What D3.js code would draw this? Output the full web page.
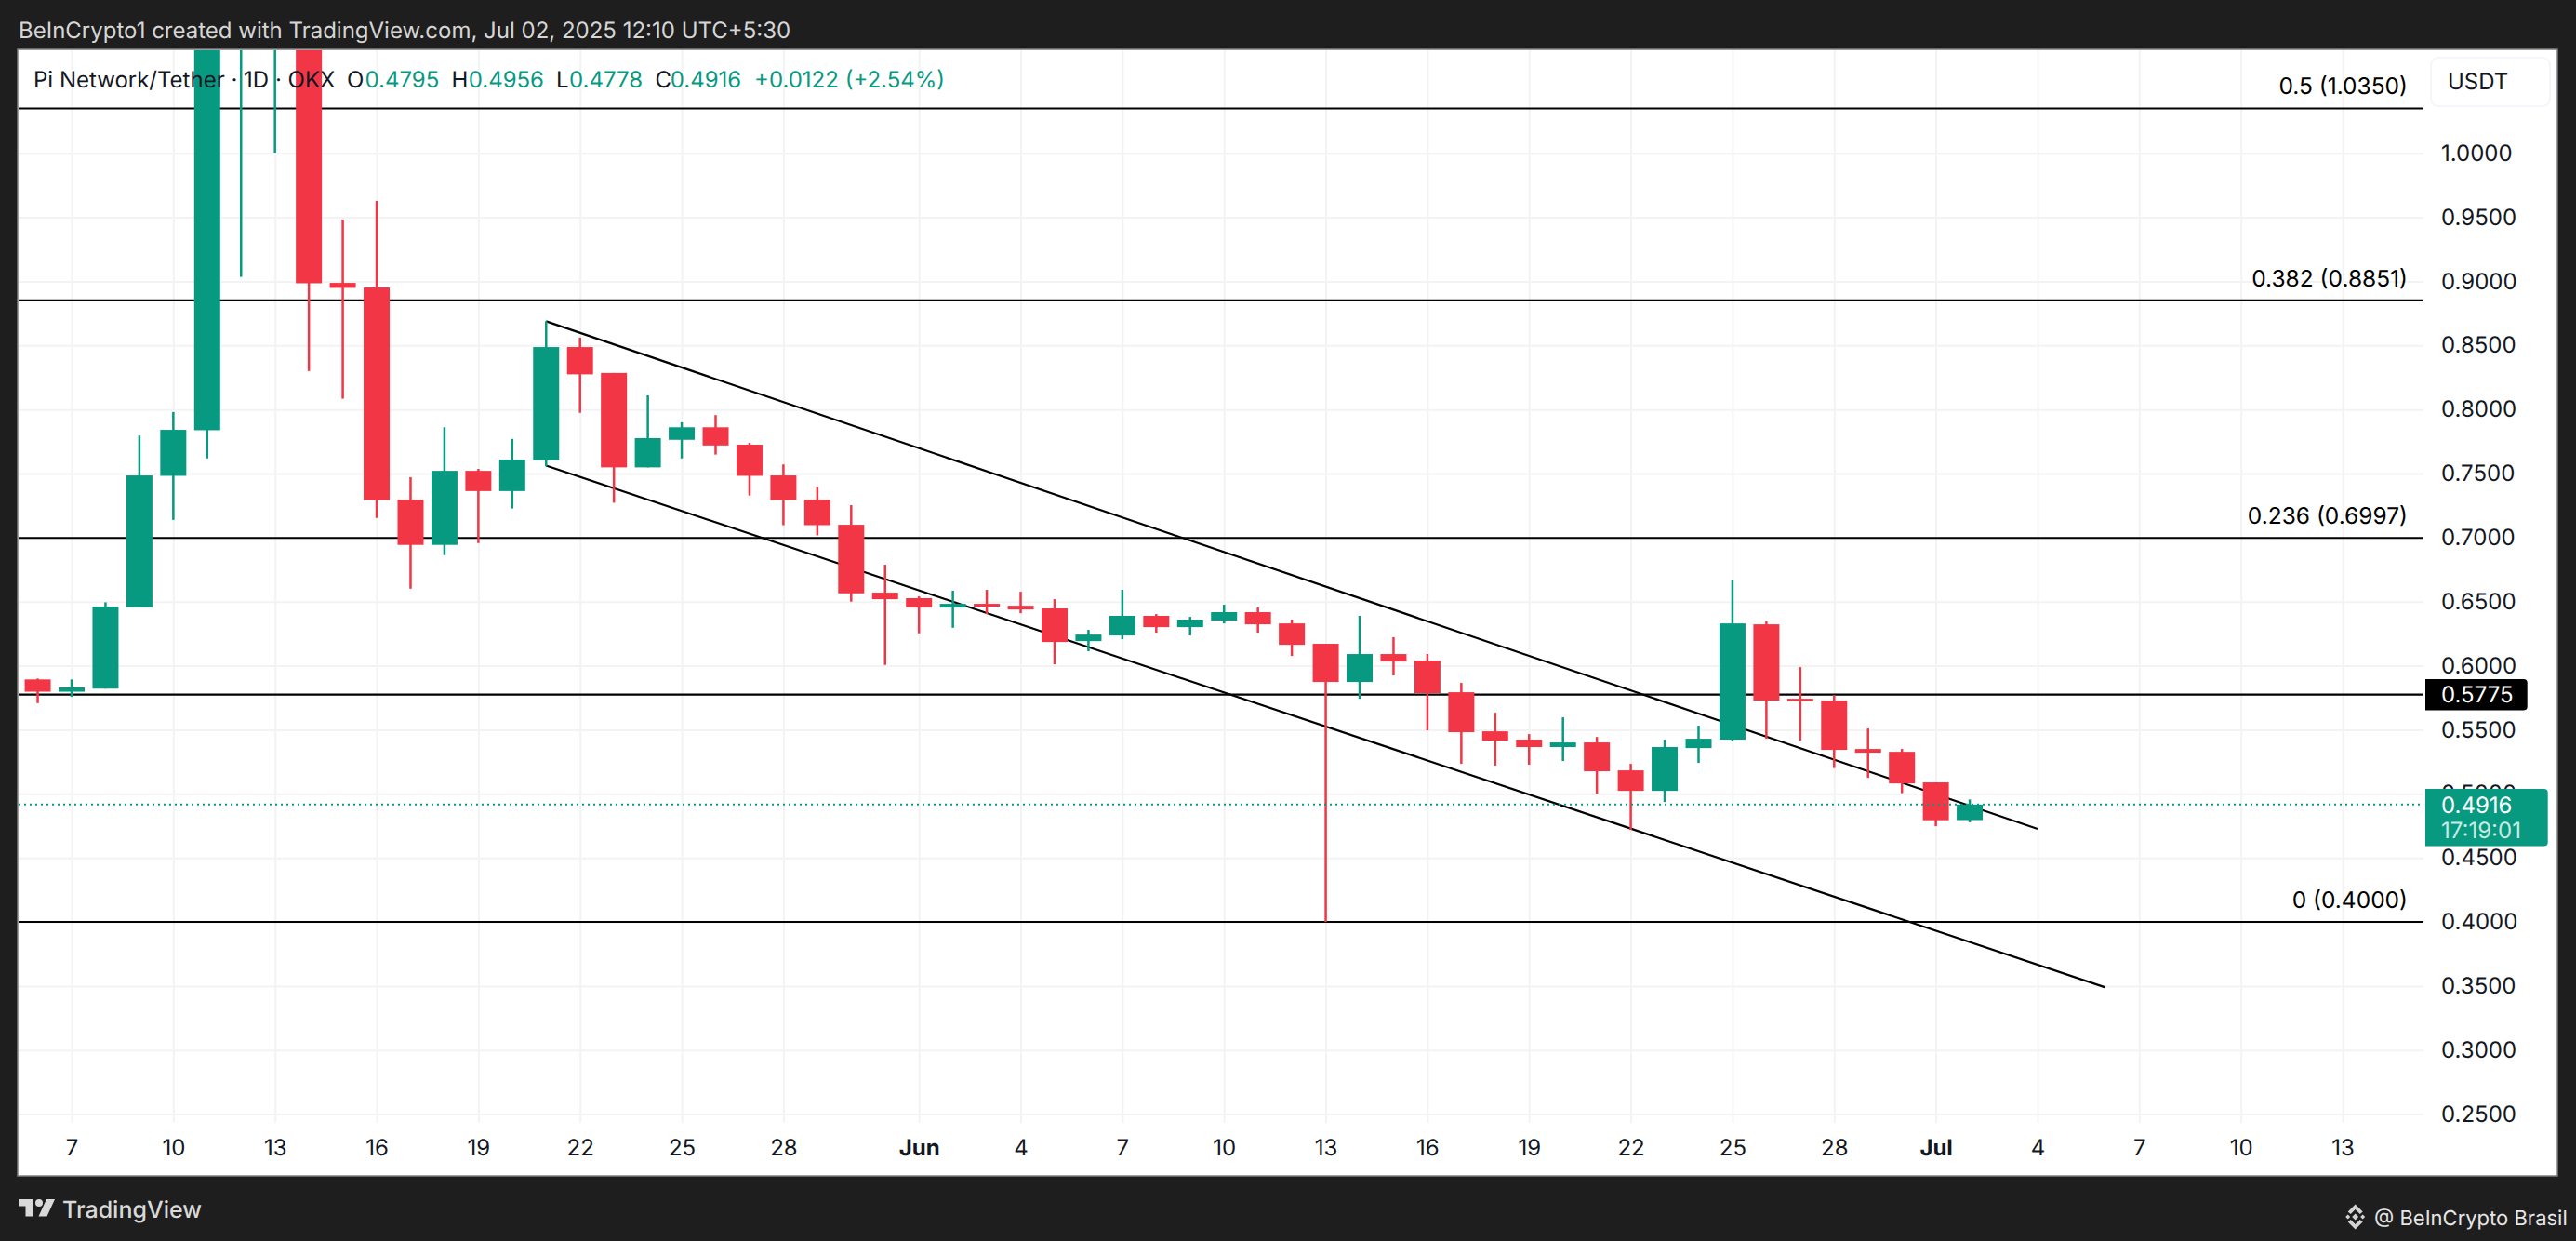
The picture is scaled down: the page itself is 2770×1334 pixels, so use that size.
<!DOCTYPE html>
<html>
<head>
<meta charset="utf-8">
<title>Pi Network/Tether</title>
<script src="https://cdn.jsdelivr.net/npm/d3@7"></script>
<style>
	html, body { margin: 0; padding: 0; background: #1e1e1e; }
	svg { display: block; }
	text { font-family: Inter, "Noto Sans", sans-serif; text-rendering: geometricPrecision; }
</style>
</head>
<body>
<div id="chart"></div>
<script>
// one candle per day, 6 May to 2 Jul 2025
var dates = [
	'2025-05-06', '2025-05-07', '2025-05-08', '2025-05-09', '2025-05-10', '2025-05-11', '2025-05-12', '2025-05-13',
	'2025-05-14', '2025-05-15', '2025-05-16', '2025-05-17', '2025-05-18', '2025-05-19', '2025-05-20', '2025-05-21',
	'2025-05-22', '2025-05-23', '2025-05-24', '2025-05-25', '2025-05-26', '2025-05-27', '2025-05-28', '2025-05-29',
	'2025-05-30', '2025-05-31', '2025-06-01', '2025-06-02', '2025-06-03', '2025-06-04', '2025-06-05', '2025-06-06',
	'2025-06-07', '2025-06-08', '2025-06-09', '2025-06-10', '2025-06-11', '2025-06-12', '2025-06-13', '2025-06-14',
	'2025-06-15', '2025-06-16', '2025-06-17', '2025-06-18', '2025-06-19', '2025-06-20', '2025-06-21', '2025-06-22',
	'2025-06-23', '2025-06-24', '2025-06-25', '2025-06-26', '2025-06-27', '2025-06-28', '2025-06-29', '2025-06-30',
	'2025-07-01', '2025-07-02'
];
// 11-14 May run off the top of the pane, those opens/closes/highs are guesses
var opens = [
	0.5893, 0.5797, 0.5821, 0.6455, 0.7482, 0.7838, 1.2000, 1.3500,
	1.4500, 0.8988, 0.8952, 0.7296, 0.6943, 0.7521, 0.7363, 0.7603,
	0.8487, 0.8285, 0.7548, 0.7763, 0.7861, 0.7725, 0.7485, 0.7296,
	0.7100, 0.6570, 0.6527, 0.6454, 0.6483, 0.6468, 0.6447, 0.6192,
	0.6236, 0.6389, 0.6301, 0.6353, 0.6418, 0.6330, 0.6171, 0.5873,
	0.6091, 0.6040, 0.5793, 0.5488, 0.5423, 0.5365, 0.5401, 0.5183,
	0.5023, 0.5357, 0.5423, 0.6323, 0.5742, 0.5728, 0.5350, 0.5328,
	0.5089, 0.4795
];
var highs = [
	0.5900, 0.5893, 0.6495, 0.7796, 0.7980, 1.3000, 1.6600, 1.5000,
	1.4600, 0.9483, 0.9628, 0.7471, 0.7861, 0.7536, 0.7770, 0.8688,
	0.8561, 0.8285, 0.8110, 0.7900, 0.7956, 0.7740, 0.7571, 0.7399,
	0.7253, 0.6788, 0.6541, 0.6585, 0.6592, 0.6577, 0.6519, 0.6280,
	0.6592, 0.6403, 0.6381, 0.6476, 0.6454, 0.6360, 0.6171, 0.6389,
	0.6222, 0.6091, 0.5866, 0.5633, 0.5466, 0.5597, 0.5444, 0.5234,
	0.5423, 0.5532, 0.6665, 0.6345, 0.5989, 0.5771, 0.5510, 0.5350,
	0.5089, 0.4956
];
var lows = [
	0.5708, 0.5757, 0.5821, 0.6455, 0.7138, 0.7618, 0.9035, 1.0001,
	0.8300, 0.8084, 0.7153, 0.6601, 0.6863, 0.6957, 0.7227, 0.7556,
	0.7974, 0.7272, 0.7548, 0.7618, 0.7648, 0.7328, 0.7097, 0.7017,
	0.6500, 0.6006, 0.6253, 0.6296, 0.6403, 0.6410, 0.6011, 0.6113,
	0.6207, 0.6258, 0.6236, 0.6330, 0.6258, 0.6076, 0.4000, 0.5742,
	0.5924, 0.5495, 0.5234, 0.5220, 0.5227, 0.5256, 0.5001, 0.4718,
	0.4936, 0.5241, 0.5409, 0.5430, 0.5415, 0.5201, 0.5125, 0.5005,
	0.4747, 0.4778
];
var closes = [
	0.5797, 0.5830, 0.6462, 0.7485, 0.7841, 1.2000, 1.3500, 1.4500,
	0.8985, 0.8949, 0.7292, 0.6943, 0.7521, 0.7363, 0.7609, 0.8487,
	0.8274, 0.7548, 0.7776, 0.7861, 0.7719, 0.7482, 0.7292, 0.7097,
	0.6565, 0.6519, 0.6454, 0.6483, 0.6461, 0.6439, 0.6185, 0.6243,
	0.6389, 0.6301, 0.6360, 0.6418, 0.6323, 0.6163, 0.5873, 0.6091,
	0.6033, 0.5786, 0.5481, 0.5415, 0.5365, 0.5401, 0.5176, 0.5023,
	0.5365, 0.5430, 0.6330, 0.5728, 0.5728, 0.5343, 0.5321, 0.5081,
	0.4794, 0.4916
];

var priceTicks = [1, 0.95, 0.9, 0.85, 0.8, 0.75, 0.7, 0.65, 0.6, 0.55, 0.5, 0.45, 0.4, 0.35, 0.3, 0.25];
var timeTicks = [
	'2025-05-07', '2025-05-10', '2025-05-13', '2025-05-16', '2025-05-19', '2025-05-22', '2025-05-25', '2025-05-28',
	'2025-06-01', '2025-06-04', '2025-06-07', '2025-06-10', '2025-06-13', '2025-06-16', '2025-06-19', '2025-06-22',
	'2025-06-25', '2025-06-28', '2025-07-01', '2025-07-04', '2025-07-07', '2025-07-10', '2025-07-13'
];
var timeLabels = ['7', '10', '13', '16', '19', '22', '25', '28', 'Jun', '4', '7', '10', '13', '16', '19', '22', '25', '28', 'Jul', '4', '7', '10', '13'];

var fibLevels = [1.035, 0.8851, 0.6997, 0.4];
var fibNames = ['0.5 (1.0350)', '0.382 (0.8851)', '0.236 (0.6997)', '0 (0.4000)'];
var plainLevel = 0.5775;
var lastPrice = 0.4916;

// channel trend lines, two ends each
var channelDates = [['2025-05-21', '2025-07-04'], ['2025-05-21', '2025-07-06']];
var channelPrices = [[0.8688, 0.4726], [0.7562, 0.3489]];

var legendNames = ['O', 'H', 'L', 'C'];
var legendValues = ['0.4795', '0.4956', '0.4778', '0.4916'];

var green = '#089981';
var red = '#f23645';
var ink = '#131722';
var gridColor = '#f3f3f4';

var width = 2770, height = 1334;
var pane = { left: 20, top: 54, right: 2606, bottom: 1207 };
var frame = { right: 2749, bottom: 1263 };

var parseDay = d3.utcParse('%Y-%m-%d');

var x = d3.scaleUtc()
	.domain([parseDay('2025-05-07'), parseDay('2025-07-13')])
	.range([77, 2519]);

var y = d3.scaleLinear()
	.domain([0.25, 1])
	.range([1197.6, 164.7]);

var svg = d3.select('#chart').append('svg')
	.attr('width', width)
	.attr('height', height);

svg.append('rect')
	.attr('x', pane.left - 1).attr('y', pane.top - 1)
	.attr('width', frame.right - pane.left + 2).attr('height', frame.bottom - pane.top + 2)
	.attr('fill', '#ffffff')
	.attr('stroke', '#808080')
	.attr('stroke-width', 1.5);

svg.append('defs').append('clipPath').attr('id', 'pane')
	.append('rect')
	.attr('x', pane.left).attr('y', pane.top)
	.attr('width', pane.right - pane.left).attr('height', pane.bottom - pane.top);

// grid, drawn with the axes so tick size spans the pane
var timeDates = timeTicks.map(parseDay);

var xGrid = svg.append('g')
	.attr('transform', 'translate(0,' + pane.bottom + ')')
	.call(d3.axisBottom(x).tickValues(timeDates).tickSize(-(pane.bottom - pane.top)).tickFormat(''));
xGrid.select('.domain').remove();
xGrid.selectAll('line').attr('stroke', gridColor).attr('stroke-width', 2);

var yGrid = svg.append('g')
	.attr('transform', 'translate(' + pane.right + ',0)')
	.call(d3.axisLeft(y).tickValues(priceTicks).tickSize(pane.right - pane.left).tickFormat(''));
yGrid.select('.domain').remove();
yGrid.selectAll('line').attr('stroke', gridColor).attr('stroke-width', 2);

var plot = svg.append('g').attr('clip-path', 'url(#pane)');

// horizontal levels
plot.selectAll('.level')
	.data(fibLevels.concat([plainLevel]))
	.enter().append('line')
	.attr('class', 'level')
	.attr('x1', pane.left).attr('x2', pane.right)
	.attr('y1', function (d) { return y(d); })
	.attr('y2', function (d) { return y(d); })
	.attr('stroke', '#000000')
	.attr('stroke-width', 2.2);

// falling channel
var channelLine = d3.line()
	.x(function (d) { return x(parseDay(d[0])); })
	.y(function (d) { return y(d[1]); });

channelDates.forEach(function (ends, i) {
	plot.append('path')
		.attr('d', channelLine(d3.zip(ends, channelPrices[i])))
		.attr('fill', 'none')
		.attr('stroke', '#000000')
		.attr('stroke-width', 2.2);
});

// candles
var candleWidth = 28;
var candles = plot.selectAll('.candle')
	.data(dates)
	.enter().append('g')
	.attr('class', 'candle')
	.attr('fill', function (d, i) { return closes[i] >= opens[i] ? green : red; });

candles.append('rect')
	.attr('x', function (d) { return x(parseDay(d)) - 1.25; })
	.attr('width', 2.5)
	.attr('y', function (d, i) { return y(highs[i]); })
	.attr('height', function (d, i) { return y(lows[i]) - y(highs[i]); });

candles.append('rect')
	.attr('x', function (d) { return x(parseDay(d)) - candleWidth / 2; })
	.attr('width', candleWidth)
	.attr('y', function (d, i) { return y(Math.max(opens[i], closes[i])); })
	.attr('height', function (d, i) { return Math.max(Math.abs(y(opens[i]) - y(closes[i])), 2.5); });

// dotted last price line
svg.append('line')
	.attr('x1', pane.left).attr('x2', pane.right - 2)
	.attr('y1', y(lastPrice)).attr('y2', y(lastPrice))
	.attr('stroke', green)
	.attr('stroke-width', 2)
	.attr('stroke-dasharray', '2 4');

// fib labels
svg.selectAll('.fib')
	.data(fibLevels)
	.enter().append('text')
	.attr('class', 'fib')
	.attr('x', 2589)
	.attr('y', function (d) { return y(d) - 15; })
	.attr('text-anchor', 'end')
	.attr('font-size', 24.5)
	.attr('fill', '#000000')
	.text(function (d, i) { return fibNames[i]; });

// price axis
var yAxis = svg.append('g')
	.attr('transform', 'translate(2625,0)')
	.call(d3.axisRight(y).tickValues(priceTicks).tickSize(0).tickPadding(0).tickFormat(d3.format('.4f')));
yAxis.select('.domain').remove();
yAxis.selectAll('text')
	.attr('font-size', 24)
	.attr('font-family', 'Inter')
	.attr('fill', ink);

// time axis
var xAxis = svg.append('g')
	.attr('transform', 'translate(0,1225)')
	.call(d3.axisBottom(x).tickValues(timeDates).tickSize(0).tickPadding(0)
		.tickFormat(function (d, i) { return timeLabels[i]; }));
xAxis.select('.domain').remove();
xAxis.selectAll('text')
	.attr('font-size', 24)
	.attr('font-family', 'Inter')
	.attr('fill', ink)
	.attr('font-weight', function (d, i) { return isNaN(+timeLabels[i]) ? 700 : 400; });

// price tags on the axis
svg.append('path')
	.attr('d', 'M2608,730 H2713.7 a4,4 0 0 1 4,4 V759.4 a4,4 0 0 1 -4,4 H2608 Z')
	.attr('fill', '#000000');
svg.append('text')
	.attr('x', 2625).attr('y', y(plainLevel)).attr('dy', '0.36em')
	.attr('font-size', 24).attr('fill', '#ffffff')
	.text(d3.format('.4f')(plainLevel));

svg.append('path')
	.attr('d', 'M2608,848 H2735.7 a4,4 0 0 1 4,4 V905.6 a4,4 0 0 1 -4,4 H2608 Z')
	.attr('fill', green);
svg.append('text')
	.attr('x', 2625).attr('y', y(lastPrice)).attr('dy', '0.36em')
	.attr('font-size', 24).attr('fill', '#ffffff')
	.text(d3.format('.4f')(lastPrice));
svg.append('text')
	.attr('x', 2625).attr('y', 892).attr('dy', '0.36em')
	.attr('font-size', 24).attr('fill', '#ffffff').attr('fill-opacity', 0.8)
	.text('17:19:01');

// currency button
svg.append('rect')
	.attr('x', 2614).attr('y', 62)
	.attr('width', 128).attr('height', 52)
	.attr('rx', 8)
	.attr('fill', '#ffffff')
	.attr('stroke', '#f0f3fa')
	.attr('stroke-width', 1.5);
svg.append('text')
	.attr('x', 2632).attr('y', 87).attr('dy', '0.36em')
	.attr('font-size', 24).attr('fill', ink)
	.text('USDT');

// legend over the candles
svg.append('text')
	.attr('x', 36).attr('y', 94)
	.attr('font-size', 24).attr('fill', ink)
	.text('Pi Network/Tether · 1D · OKX');

var legendNameX = [373, 485.6, 598, 704.6];
var legendValueX = [392.5, 503.7, 612, 720.7];
legendNames.forEach(function (name, i) {
	svg.append('text')
		.attr('x', legendNameX[i]).attr('y', 94)
		.attr('font-size', 24).attr('fill', ink)
		.text(name);
	svg.append('text')
		.attr('x', legendValueX[i]).attr('y', 94)
		.attr('font-size', 24).attr('fill', green)
		.text(legendValues[i]);
});
svg.append('text')
	.attr('x', 811).attr('y', 94)
	.attr('font-size', 24).attr('fill', green)
	.text('+0.0122 (+2.54%)');

// dark band texts
svg.append('text')
	.attr('x', 20).attr('y', 41)
	.attr('font-size', 24).attr('fill', '#d6d6d6')
	.text('BeInCrypto1 created with TradingView.com, Jul 02, 2025 12:10 UTC+5:30');

// tradingview logo
var logo = svg.append('g')
	.attr('transform', 'translate(20,1289)')
	.attr('fill', '#d9d9d9');
logo.append('path').attr('d', 'M0,0 H16 V18.5 H7.5 V7.5 H0 Z');
logo.append('circle').attr('cx', 22).attr('cy', 4).attr('r', 4);
logo.append('path').attr('d', 'M30,0 H39 L30.5,18.5 H21.5 Z');

svg.append('text')
	.attr('x', 67).attr('y', 1309)
	.attr('font-size', 25).attr('font-weight', 500).attr('fill', '#d9d9d9')
	.text('TradingView');

// exchange style logo and credit
var badge = svg.append('g')
	.attr('transform', 'translate(2532.7,1308)')
	.attr('fill', '#d4d4d4');
badge.append('path').attr('d', 'M0,-3.5 L3.5,0 L0,3.5 L-3.5,0 Z');
badge.append('path').attr('d', 'M-10.5,0 L-8,-2.5 L-5.5,0 L-8,2.5 Z');
badge.append('path').attr('d', 'M10.5,0 L8,-2.5 L5.5,0 L8,2.5 Z');
badge.append('path').attr('d', 'M0,-13.5 L8,-5.5 L5,-3 L0,-8 L-5,-3 L-8,-5.5 Z');
badge.append('path').attr('d', 'M0,13.5 L8,5.5 L5,3 L0,8 L-5,3 L-8,5.5 Z');

svg.append('text')
	.attr('x', 2553).attr('y', 1317)
	.attr('font-size', 22).attr('fill', '#e6e6e6')
	.text('@ BeInCrypto Brasil');
</script>
</body>
</html>
